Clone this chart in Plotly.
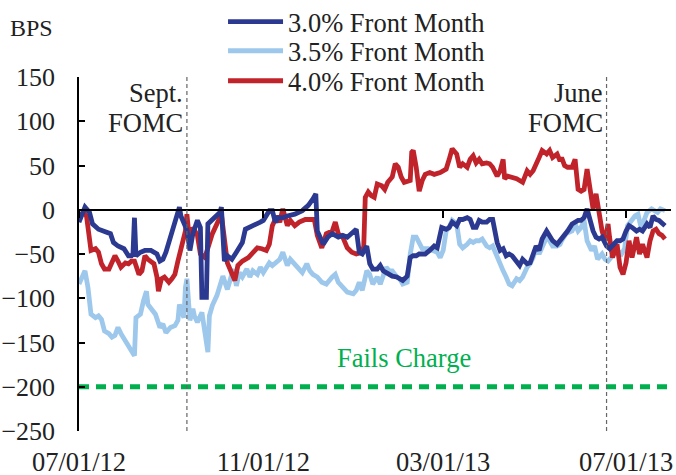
import pandas as pd
import plotly.graph_objects as go

start_date = "2012-07-01"
x_range = ["2012-07-01", "2013-07-31"]

# 3.0% Front Month (days since start, BPS)
days_30 = [0,2,4,7,9,13,17,21,23,26,30,33,35,36,37,38,41,44,48,52,54,56,58,61,63,65,67,68,70,72,74,76,79,81,82,85,86,91,94,95,97,99,102,105,109,111,114,117,121,123,125,127,129,131,133,136,139,144,149,153,156,158,159,163,166,169,173,176,179,183,185,187,189,192,194,196,199,201,203,205,207,209,212,214,216,219,221,223,225,227,231,234,237,239,242,245,247,249,252,254,256,259,261,263,265,267,269,272,274,276,279,281,283,285,287,289,292,294,296,299,301,303,305,307,309,312,314,316,319,321,323,326,329,333,335,337,339,341,343,345,347,349,352,354,356,359,361,363,365,367,369,372,374,376,379,381,383,385,387,389,391]
bps_30 = [-14,-5,3,-3,-16,-22,-24,-27,-37,-41,-44,-52,-52,-50,-9,-52,-48,-46,-46,-50,-58,-56,-48,-31,-22,-10,3,-7,-14,-23,-46,-27,-12,-20,-99,-99,-16,-8,-3,3,-58,-52,-56,-48,-37,-22,-20,-18,-14,-12,-5,-1,-1,-14,-9,-9,-7,-5,-1,5,12,18,-24,-39,-31,-27,-31,-29,-31,-24,-22,-48,-50,-41,-61,-67,-67,-63,-69,-71,-73,-75,-76,-78,-80,-75,-54,-52,-52,-50,-50,-46,-41,-43,-20,-22,-20,-14,-18,-11,-11,-9,-11,-20,-20,-12,-14,-14,-11,-11,-37,-46,-44,-52,-50,-52,-60,-63,-56,-61,-60,-50,-41,-46,-33,-24,-29,-35,-39,-35,-31,-24,-16,-12,-12,-9,1,-12,-24,-31,-33,-31,-41,-44,-41,-35,-35,-33,-24,-18,-20,-24,-22,-24,-16,-20,-7,-11,-12,-16,-18]

# 3.5% Front Month
days_35 = [0,2,4,6,8,11,13,15,17,20,22,24,26,28,31,34,37,38,41,43,45,46,48,51,54,56,58,61,64,66,67,70,71,72,74,76,77,79,82,84,86,87,89,92,94,96,99,101,103,105,107,109,112,114,116,119,121,123,125,127,129,132,134,136,139,141,143,145,147,149,152,154,156,159,162,165,169,171,173,176,179,183,185,187,189,192,194,196,199,201,203,205,207,209,212,214,216,219,221,223,225,227,229,233,236,239,241,243,245,247,249,252,254,256,259,261,263,265,267,269,272,274,276,279,281,283,285,287,289,292,294,296,299,301,303,305,307,309,312,314,316,319,321,322,325,329,331,333,335,337,339,342,344,346,349,351,353,355,357,359,362,364,366,369,371,373,375,377,379,382,384,386,388,391]
bps_35 = [-84,-77,-69,-88,-118,-122,-120,-124,-137,-140,-144,-142,-133,-140,-148,-156,-165,-122,-118,-103,-92,-107,-111,-118,-133,-129,-139,-133,-131,-125,-107,-122,-88,-78,-125,-112,-120,-127,-116,-139,-161,-120,-108,-97,-86,-75,-90,-78,-67,-86,-71,-76,-67,-76,-69,-73,-65,-71,-65,-60,-63,-58,-56,-48,-63,-56,-60,-65,-67,-71,-61,-69,-73,-76,-82,-84,-76,-73,-82,-88,-93,-95,-91,-82,-91,-69,-73,-84,-76,-84,-73,-65,-69,-69,-76,-78,-84,-82,-50,-31,-31,-39,-44,-44,-46,-48,-54,-46,-24,-20,-12,-16,-39,-43,-39,-35,-37,-35,-35,-33,-41,-43,-41,-54,-61,-69,-76,-84,-86,-78,-80,-76,-65,-61,-54,-43,-50,-43,-31,-35,-41,-41,-39,-35,-27,-24,-16,-24,-20,-12,-35,-46,-41,-56,-50,-56,-58,-54,-50,-46,-50,-44,-18,-11,-7,-5,-20,-12,-3,1,-1,-3,1,-1]

# 4.0% Front Month
days_40 = [0,3,5,7,8,11,13,15,17,20,22,24,26,28,31,33,35,37,40,42,44,46,50,52,53,55,57,60,62,64,66,69,71,72,74,76,79,81,84,89,93,95,99,104,106,109,113,116,119,122,125,127,129,132,134,136,139,141,144,147,151,154,157,159,162,165,169,171,173,176,179,182,185,189,190,191,193,195,197,199,202,204,206,209,211,213,215,217,221,222,223,225,227,229,231,234,237,241,243,245,247,249,252,254,256,259,261,263,265,267,269,272,274,276,279,281,283,284,286,289,292,294,296,299,301,303,305,307,309,312,314,316,319,321,322,324,326,329,331,333,335,337,339,341,343,345,347,349,351,353,354,356,359,361,363,365,367,369,372,374,376,379,381,383,385,387,389,391]
bps_40 = [-7,-3,-7,-31,-46,-44,-48,-61,-67,-67,-60,-52,-58,-65,-60,-61,-58,-58,-73,-69,-52,-56,-61,-76,-92,-78,-76,-82,-78,-73,-58,-35,-24,-5,-40,-20,-29,-50,-54,-27,-14,-5,-60,-80,-63,-58,-54,-48,-43,-44,-46,-39,-18,-7,-14,1,-18,-12,-18,-14,-11,-11,-11,-29,-43,-27,-24,-14,-27,-31,-43,-48,-50,-48,-41,14,20,16,14,29,27,23,31,37,52,48,37,31,33,65,67,48,21,33,40,42,40,42,44,46,57,69,63,48,52,48,57,61,53,57,52,53,52,48,38,44,57,35,38,37,35,33,31,44,40,44,53,59,67,63,67,59,63,55,59,50,48,48,57,23,21,23,46,25,1,18,-1,-24,-35,-16,-31,-54,-39,-65,-73,-60,-35,-54,-31,-50,-39,-54,-35,-24,-22,-27,-29,-33]

fails_charge = -200
fomc_dates = ["2012-09-11", "2013-06-18"]
fomc_labels = [["Sept.", "FOMC"], ["June", "FOMC"]]
tick_dates = ["2012-07-01", "2012-11-01", "2013-03-01", "2013-07-01"]
tick_labels = ["07/01/12", "11/01/12", "03/01/13", "07/01/13"]
y_ticks = [150, 100, 50, 0, -50, -100, -150, -200, -250]

def to_dates(days):
    return pd.Timestamp(start_date) + pd.to_timedelta(days, unit="D")

FONT = "Liberation Serif"
FS = 26.5
TXT = "#222222"
LW = 4.8
C30, C35, C40, CG = "#2B3990", "#9DC8EC", "#C1232B", "#00B04F"

fig = go.Figure()
fig.add_trace(go.Scatter(x=to_dates(days_35), y=bps_35, mode="lines", name="3.5% Front Month",
                         line=dict(color=C35, width=LW), legend="legend2"))
fig.add_trace(go.Scatter(x=to_dates(days_40), y=bps_40, mode="lines", name="4.0% Front Month",
                         line=dict(color=C40, width=LW), legend="legend3"))
fig.add_trace(go.Scatter(x=to_dates(days_30), y=bps_30, mode="lines", name="3.0% Front Month",
                         line=dict(color=C30, width=LW), legend="legend"))
fig.add_trace(go.Scatter(x=x_range, y=[fails_charge, fails_charge], mode="lines", xaxis="x2",
                         line=dict(color=CG, width=LW, dash="10px,7px"), showlegend=False,
                         hoverinfo="skip"))

for d in fomc_dates:
    fig.add_shape(type="line", xref="x", yref="paper", x0=d, x1=d, y0=0, y1=1,
                  line=dict(color="#666666", width=1.2, dash="4px,3px"))

for d, (l1, l2) in zip(fomc_dates, fomc_labels):
    fig.add_annotation(x=d, y=132, text=l1, showarrow=False, xanchor="right", xshift=-2,
                       font=dict(family=FONT, size=FS, color=TXT))
    fig.add_annotation(x=d, y=98, text=l2, showarrow=False, xanchor="right", xshift=-2,
                       font=dict(family=FONT, size=FS, color=TXT))

fig.add_annotation(x="2013-02-03", y=-168, text="Fails Charge", showarrow=False,
                   font=dict(family=FONT, size=FS, color=CG))
fig.add_annotation(xref="paper", yref="paper", x=0, y=1.138, xshift=-24, text="BPS",
                   showarrow=False, xanchor="right", yanchor="middle",
                   font=dict(family=FONT, size=24, color=TXT))

leg = dict(x=0.2433, xanchor="left", yanchor="middle", bgcolor="rgba(0,0,0,0)",
           font=dict(family=FONT, size=FS, color=TXT), itemwidth=55)

fig.update_layout(
    width=676, height=475,
    margin=dict(l=79, r=5, t=77, b=44, autoexpand=False),
    paper_bgcolor="white", plot_bgcolor="white",
    font=dict(family=FONT, size=FS, color=TXT),
    showlegend=True,
    legend=dict(leg, y=1.1554),
    legend2=dict(leg, y=1.0734),
    legend3=dict(leg, y=0.9887),
    xaxis=dict(type="date", range=x_range, tickvals=tick_dates, ticktext=tick_labels,
               showline=False, ticks="", showgrid=False, zeroline=False, ticklabelstandoff=12,
               automargin=False),
    xaxis2=dict(type="date", range=x_range, overlaying="x", anchor="free", position=0.625,
                tickvals=tick_dates, showticklabels=False, showline=True, linecolor="black",
                linewidth=1.5, ticks="outside", ticklen=7, tickcolor="black", tickwidth=1.5,
                showgrid=False, zeroline=False, automargin=False),
    yaxis=dict(range=[-250, 150], tickvals=y_ticks, showline=True, linecolor="black", linewidth=1.5,
               ticks="inside", ticklen=6, tickcolor="black", tickwidth=1.5, showgrid=False,
               zeroline=False, ticklabelstandoff=17, automargin=False,
               tickfont=dict(family=FONT, size=26, color=TXT)),
)

fig.write_html("out.html", config={"displayModeBar": False},
               post_script="document.body.style.margin='0';")
